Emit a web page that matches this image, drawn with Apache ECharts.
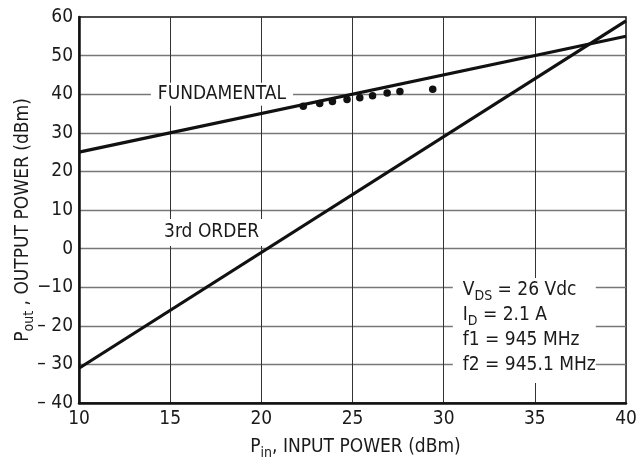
<!DOCTYPE html>
<html><head><meta charset="utf-8">
<script src="https://cdn.jsdelivr.net/npm/echarts@6/dist/echarts.min.js"></script>
<style>html,body{margin:0;padding:0;background:#fff}#c{width:639px;height:464px}</style>
</head><body><div id="c"></div>
<script>
const FONT = "'Liberation Sans Narrow','Arial Narrow','DejaVu Sans Condensed',sans-serif";
const xTicks = [10, 15, 20, 25, 30, 35, 40];
const yTickValues = [-40, -30, -20, -10, 0, 10, 20, 30, 40, 50, 60];
const yTickText = ['– 40', '– 30', '– 20', '−10', '0', '10', '20', '30', '40', '50', '60'];
const fundamentalX = [10, 40];
const fundamentalY = [25, 55];
const thirdOrderX = [10, 40];
const thirdOrderY = [-31, 59];
const measuredX = [22.3, 23.2, 23.9, 24.7, 25.4, 26.1, 26.9, 27.6, 29.4];
const measuredY = [36.9, 37.6, 38.1, 38.6, 39.1, 39.6, 40.3, 40.7, 41.3];
const labelFundamental = 'FUNDAMENTAL';
const labelThird = '3rd ORDER';
const conditionLines = ['{m|V}{s|DS}{m| = 26 Vdc}', '{m|I}{s|D}{m| = 2.1 A}', '{m|f1 = 945 MHz}', '{m|f2 = 945.1 MHz}'];

const TXT = '#1a1a1a';
const FS = 19;
const rich = {
  m: {fontFamily: FONT, fontSize: FS, color: TXT, lineHeight: 25, verticalAlign: 'middle'},
  s: {fontFamily: FONT, fontSize: 14, color: TXT, lineHeight: 14, verticalAlign: 'bottom'}
};

const chart = echarts.init(document.getElementById('c'), null, {renderer: 'canvas'});
chart.setOption({
  animation: false,
  backgroundColor: '#fff',
  grid: {left: 79, right: 13, top: 17, bottom: 61, outerBoundsMode: 'none', containLabel: false,
    show: true, borderColor: '#111', borderWidth: 1.5, backgroundColor: 'transparent'},
  xAxis: {
    type: 'value', min: 10, max: 40, interval: 5,
    axisLine: {show: true, onZero: false, lineStyle: {color: '#111', width: 2.5}},
    axisTick: {show: false},
    axisLabel: {fontFamily: FONT, fontSize: FS, color: TXT, margin: 7,
      formatter: v => xTicks.indexOf(v) >= 0 ? String(v) : ''},
    splitLine: {show: true, showMinLine: false, showMaxLine: false, lineStyle: {color: '#333', width: 1}},
    name: '{m|P}{s|in}{m|, INPUT POWER (dBm)}',
    nameLocation: 'middle', nameGap: 32, nameMoveOverlap: false,
    nameTextStyle: {rich: rich, padding: [0, 0, 0, 6]}
  },
  yAxis: {
    type: 'value', min: -40, max: 60, interval: 10,
    axisLine: {show: true, onZero: false, lineStyle: {color: '#111', width: 2.5}},
    axisTick: {show: false},
    axisLabel: {fontFamily: FONT, fontSize: FS, color: TXT, margin: 6,
      formatter: v => { const i = yTickValues.indexOf(v); return i >= 0 ? yTickText[i] : ''; }},
    splitLine: {show: true, showMinLine: false, showMaxLine: false, lineStyle: {color: '#777', width: 1.3}},
    name: '{m|P}{s|out}{m| , OUTPUT POWER (dBm)}',
    nameLocation: 'middle', nameGap: 43, nameRotate: 90, nameMoveOverlap: false,
    nameTextStyle: {rich: rich, padding: [0, 20, 0, 0]}
  },
  series: [
    {
      type: 'scatter', z: 1, symbolSize: 0, silent: true, itemStyle: {opacity: 1},
      data: [[17.84, 40]],
      label: {show: true, position: 'inside', formatter: labelFundamental, fontFamily: FONT, fontSize: FS, color: TXT,
        opacity: 1, backgroundColor: '#fff', padding: [2, 7]}
    },
    {
      type: 'scatter', z: 1, symbolSize: 0, silent: true, itemStyle: {opacity: 1},
      data: [[17.27, 4.2]],
      label: {show: true, position: 'inside', formatter: labelThird, fontFamily: FONT, fontSize: FS, color: TXT,
        opacity: 1, backgroundColor: '#fff', padding: [4, 4]}
    },
    {
      type: 'scatter', z: 1, symbolSize: 0, silent: true, itemStyle: {opacity: 1},
      data: [[30.5, -7.6]],
      label: {show: true, position: [0, 0], align: 'left', verticalAlign: 'top', opacity: 1,
        formatter: conditionLines.join('\n'), rich: rich,
        backgroundColor: '#fff', padding: [0, 0, 5, 10]}
    },
    {
      type: 'line', z: 3, symbol: 'none', silent: true,
      data: fundamentalX.map((x, i) => [x, fundamentalY[i]]),
      lineStyle: {color: '#111', width: 3.2}
    },
    {
      type: 'line', z: 3, symbol: 'none', silent: true,
      data: thirdOrderX.map((x, i) => [x, thirdOrderY[i]]),
      lineStyle: {color: '#111', width: 3.2}
    },
    {
      type: 'scatter', z: 4, symbol: 'circle', symbolSize: 7.5, silent: true,
      data: measuredX.map((x, i) => [x, measuredY[i]]),
      itemStyle: {color: '#111', opacity: 1}
    }
  ]
});
</script></body></html>
